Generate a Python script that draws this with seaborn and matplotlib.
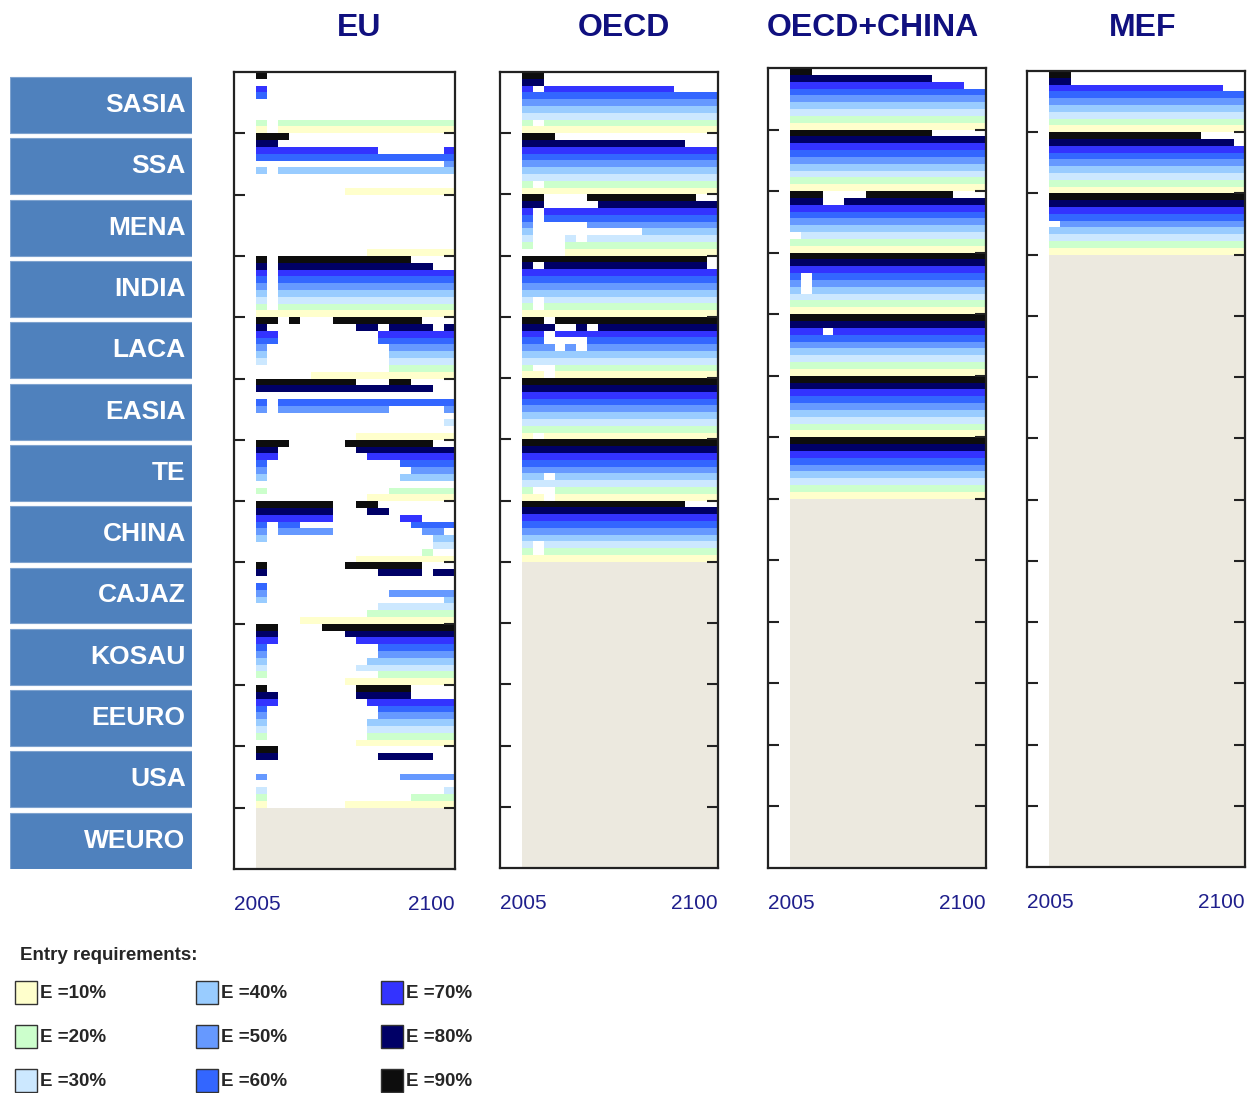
# Year of entry of each region into the coalition, per entry requirement

import numpy as np
import seaborn as sns
import matplotlib.pyplot as plt
from matplotlib.colors import ListedColormap
from matplotlib.patches import Rectangle

regions = ['SASIA', 'SSA', 'MENA', 'INDIA', 'LACA', 'EASIA', 'TE',
           'CHINA', 'CAJAZ', 'KOSAU', 'EEURO', 'USA', 'WEURO']
levels = [90, 80, 70, 60, 50, 40, 30, 20, 10]  # top -> bottom inside a region band
years = list(range(2005, 2105, 5))
start_year = 2015  # columns before this stay blank

level_colors = {10: '#FFFFCC', 20: '#CCFFCC', 30: '#CCE8FF', 40: '#99CCFF', 50: '#6699FF',
                60: '#3366FF', 70: '#3333FF', 80: '#000066', 90: '#0D0D0D'}
member_color = '#ECE9DF'

# '#' = region in the coalition that year (2015 ... 2100), rows 90% ... 10%
eu_rows = {
    'SASIA': ['#.................', '..................', '#.................',
              '#.................', '..................', '..................',
              '..................', '#.################', '#.################'],
    'SSA':   ['###...............', '##................', '###########......#',
              '##################', '.................#', '#.################',
              '..................', '..................', '........##########'],
    'MENA':  ['..................', '..................', '..................',
              '..................', '..................', '..................',
              '..................', '..................', '..........########'],
    'INDIA': ['#.############....', '#.##############..', '#.################',
              '#.################', '#.################', '#.################',
              '#.################', '#.################', '##################'],
    'LACA':  ['##.#...########...', '#........##.####.#', '##.........#######',
              '##.........#######', '#...........######', '#...........######',
              '#...........######', '............######', '.....#############'],
    'EASIA': ['#########...##....', '################..', '..................',
              '#.################', '#.##########.....#', '..................',
              '.................#', '..................', '.........#########'],
    'TE':    ['###.....########..', '##.......#########', '##........########',
              '#............#####', '#.............####', '#............#####',
              '..................', '#...........######', '..........########'],
    'CHINA': ['#######..##.......', '#######...##......', '#######......##...',
              '#.##..........####', '#.#####........##.', '#...............##',
              '................##', '...............#..', '.........#########'],
    'CAJAZ': ['#.......#######...', '#..........####.##', '..................',
              '#.................', '#...........######', '#................#',
              '...........#######', '..........########', '....##############'],
    'KOSAU': ['##....############', '##......##########', '##.......#########',
              '#..........#######', '#..........#######', '#.........########',
              '#........#########', '#..........#######', '........##########'],
    'EEURO': ['#........#####....', '##.......#####....', '##........########',
              '#..........#######', '#..........#######', '#.........########',
              '#.........########', '#.........########', '.........#########'],
    'USA':   ['##................', '##.........#####..', '..................',
              '..................', '#............#####', '..................',
              '#................#', '#.............####', '#.......##########'],
}
eu_members = ['WEURO']

oecd_rows = {
    'SASIA': ['##................', '##................', '#.############....',
              '##################', '##################', '##################',
              '##################', '#.################', '##################'],
    'SSA':   ['###...............', '###############...', '##################',
              '##################', '##################', '##################',
              '##################', '#.################', '##################'],
    'MENA':  ['##....##########..', '##.....###########', '#.################',
              '#.################', '#.....############', '#..........#######',
              '#...#.############', '#...##############', '....##############'],
    'INDIA': ['#################.', '#.###############.', '##################',
              '##################', '##################', '##################',
              '#.################', '#.################', '##################'],
    'LACA':  ['##.###############', '###..#.###########', '##.###############',
              '##....############', '###.#.############', '##################',
              '##################', '#..###############', '##.###############'],
    'EASIA': ['##################', '##################', '##################',
              '##################', '##################', '##################',
              '##################', '##################', '#.################'],
    'TE':    ['##################', '##################', '##################',
              '##################', '##################', '##.###############',
              '##################', '#..###############', '##.###############'],
    'CHINA': ['###############...', '##################', '##################',
              '##################', '##################', '##################',
              '#.################', '#.################', '##################'],
}
oecd_members = ['CAJAZ', 'KOSAU', 'EEURO', 'USA', 'WEURO']

oecdc_rows = {
    'SASIA': ['##................', '#############.....', '################..',
              '##################', '##################', '##################',
              '##################', '##################', '##################'],
    'SSA':   ['#############.....', '##################', '##################',
              '##################', '##################', '##################',
              '##################', '##################', '##################'],
    'MENA':  ['###....########...', '###..#############', '##################',
              '##################', '##################', '##################',
              '.#################', '##################', '##################'],
    'INDIA': ['##################', '##################', '##################',
              '#.################', '#.################', '#.################',
              '##################', '##################', '##################'],
    'LACA':  ['##################', '##################', '###.##############',
              '##################', '##################', '##################',
              '##################', '##################', '##################'],
    'EASIA': ['##################', '##################', '##################',
              '##################', '##################', '##################',
              '##################', '##################', '##################'],
    'TE':    ['##################', '##################', '##################',
              '##################', '##################', '##################',
              '##################', '##################', '##################'],
}
oecdc_members = ['CHINA', 'CAJAZ', 'KOSAU', 'EEURO', 'USA', 'WEURO']

mef_rows = {
    'SASIA': ['##................', '##................', '################..',
              '##################', '##################', '##################',
              '##################', '##################', '##################'],
    'SSA':   ['##############....', '#################.', '##################',
              '##################', '##################', '##################',
              '##################', '##################', '##################'],
    'MENA':  ['##################', '##################', '##################',
              '##################', '.#################', '##################',
              '##################', '##################', '##################'],
}
mef_members = ['INDIA', 'LACA', 'EASIA', 'TE', 'CHINA', 'CAJAZ', 'KOSAU',
               'EEURO', 'USA', 'WEURO']


def build(rows, members):
    n = len(years) - years.index(start_year)
    off = years.index(start_year)
    mat = np.zeros((len(regions) * len(levels), len(years)))
    for i, reg in enumerate(regions):
        for j, lvl in enumerate(levels):
            r = i * len(levels) + j
            if reg in members:
                mat[r, off:] = 10
                continue
            s = rows[reg][j].ljust(n, '.')[:n]
            for k, ch in enumerate(s):
                if ch == '#':
                    mat[r, off + k] = lvl // 10
    return mat


sns.set_style('white')
plt.rcParams['font.family'] = ['Liberation Sans', 'DejaVu Sans']

W, H = 1255, 1093
fig = plt.figure(figsize=(W / 100, H / 100), dpi=100)


def px_axes(l, t, r, b):
    return fig.add_axes([l / W, 1 - b / H, (r - l) / W, (b - t) / H])


cmap = ListedColormap(['white'] + [level_colors[l] for l in sorted(levels)] + [member_color])

panels = [
    ('EU', eu_rows, eu_members, (234, 72, 455, 869), 359),
    ('OECD', oecd_rows, oecd_members, (500, 72, 718, 868), 624),
    ('OECD+CHINA', oecdc_rows, oecdc_members, (768, 68, 986, 868), 873),
    ('MEF', mef_rows, mef_members, (1027, 71, 1245, 867), 1143),
]

for title, rows, members, box, tx in panels:
    ax = px_axes(*box)
    mat = build(rows, members)
    sns.heatmap(mat, ax=ax, cmap=cmap, vmin=-0.5, vmax=10.5, cbar=False,
                xticklabels=False, yticklabels=False)
    ax.set_axisbelow(False)  # ticks drawn over the cells
    for sp in ax.spines.values():
        sp.set_visible(True)
        sp.set_color('#222222')
        sp.set_linewidth(1.6)
    ax.set_yticks(np.arange(len(levels), len(regions) * len(levels), len(levels)))
    ax.set_yticklabels([])
    ax.tick_params(axis='y', left=True, right=True, direction='in', length=8,
                   width=1.5, color='#222222')
    ax.set_xticks([0, len(years)])
    labs = ax.set_xticklabels([str(years[0]), str(years[-1])], rotation=0)
    labs[0].set_ha('left')
    labs[1].set_ha('right')
    ax.tick_params(axis='x', length=0, pad=19, labelsize=15, labelcolor='#1F1F8C')
    fig.text(tx / W, 1 - 28 / H, title, ha='center', va='center', fontsize=23,
             fontweight='bold', color='#10107F')

# region labels on the left
lab = px_axes(10, 72, 192, 869)
lab.set_xlim(0, 1)
lab.set_ylim(len(regions) * len(levels), 0)
lab.axis('off')
for i, reg in enumerate(regions):
    lab.add_patch(Rectangle((0, i * 9 + 0.75), 1, 8.2, facecolor='#4F81BD',
                            edgecolor='#7FA3CF', lw=0.8))
    lab.text(0.965, i * 9 + 4.85, reg, ha='right', va='center', color='white',
             fontsize=19, fontweight='bold')

# legend
fig.text(20 / W, 1 - 955 / H, 'Entry requirements:', fontsize=13.5,
         fontweight='bold', va='center')
leg_x = [15, 196, 381]
leg_y = [993, 1037, 1081]
for n, lvl in enumerate(sorted(levels)):
    cx, cy = leg_x[n // 3], leg_y[n % 3]
    fig.add_artist(Rectangle((cx / W, 1 - (cy + 11) / H), 22 / W, 23 / H,
                             transform=fig.transFigure, facecolor=level_colors[lvl],
                             edgecolor='#333333', lw=1))
    fig.text((cx + 25) / W, 1 - cy / H, 'E =%d%%' % lvl, fontsize=13.5,
             fontweight='bold', va='center')

fig.savefig('out.png', dpi=100)
